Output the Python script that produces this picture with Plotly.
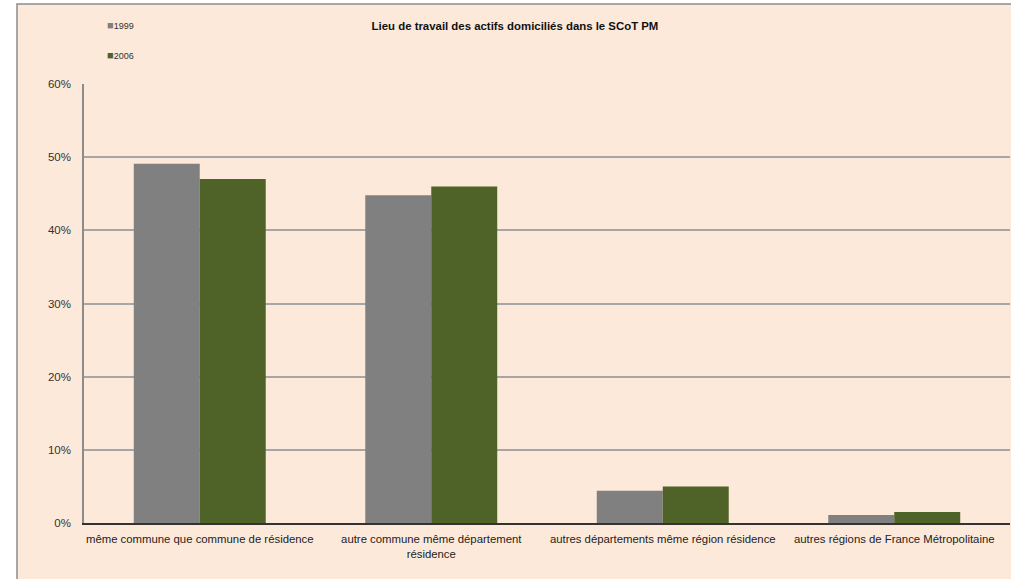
import plotly.graph_objects as go

categories = [
    "même commune que commune de résidence",
    "autre commune même département<br>résidence",
    "autres départements même région résidence",
    "autres régions de France Métropolitaine",
]
series_names = ["1999", "2006"]
values_1999 = [0.491, 0.448, 0.044, 0.011]
values_2006 = [0.470, 0.460, 0.050, 0.015]
colors = ["#808080", "#4F6228"]
y_ticks = [0, 0.1, 0.2, 0.3, 0.4, 0.5, 0.6]
title_text = "Lieu de travail des actifs domiciliés dans le SCoT PM"

W, H = 1011, 579
ml, mr, mt, mb = 84, 1, 84, 56
pw = W - ml - mr
ph = H - mt - mb

def px_x(p):
    return (p - ml) / pw

def px_y(p):
    return (H - mb - p) / ph

fig = go.Figure()
for i, (name, vals) in enumerate(zip(series_names, [values_1999, values_2006])):
    fig.add_trace(go.Bar(
        x=categories, y=vals, name=name,
        marker=dict(color=colors[i], line=dict(width=0)),
        showlegend=False,
    ))

# legend drawn as text entries (small square swatch + year)
legend_rows = [25, 55]
annotations = []
for i, name in enumerate(series_names):
    annotations.append(dict(
        xref="paper", yref="paper", x=px_x(105), y=px_y(legend_rows[i]),
        xanchor="left", yanchor="middle", showarrow=False,
        text="<span style='color:%s;font-size:11px'>■</span>%s" % (colors[i], name),
        font=dict(size=9, color="#333333", family="Liberation Sans, Arial, sans-serif"),
    ))

fig.update_layout(
    width=W, height=H,
    margin=dict(l=ml, r=mr, t=mt, b=mb, pad=0),
    paper_bgcolor="white",
    plot_bgcolor="#FDE9D9",
    font=dict(family="Liberation Sans, Arial, sans-serif", size=12, color="#222222"),
    barmode="group", bargap=0.43, bargroupgap=0,
    title=dict(text="<b>" + title_text + "</b>", x=px_x(515), xref="paper", xanchor="center",
               y=1 - 26 / H, yanchor="middle", font=dict(size=11.4, color="#111111")),
    showlegend=False,
    annotations=annotations,
    shapes=[dict(type="rect", xref="paper", yref="paper",
                 x0=px_x(17), x1=px_x(1030), y0=px_y(600), y1=px_y(4),
                 fillcolor="#FDE9D9", line=dict(color="#8C8C8C", width=1.5), layer="below")],
)
fig.update_yaxes(range=[0, 0.6], tickvals=y_ticks, tickformat=".0%",
                 showgrid=True, gridcolor="#A6A6A6", gridwidth=1.5,
                 showline=True, linecolor="#8C8C8C", linewidth=1.5,
                 ticks="outside", ticklen=9, tickcolor="rgba(0,0,0,0)", zeroline=False,
                 tickfont=dict(size=11.5, color="#333333"))
fig.update_xaxes(showline=True, linecolor="#333333", linewidth=1.5,
                 ticks="outside", ticklen=5, tickcolor="rgba(0,0,0,0)",
                 tickangle=0, tickfont=dict(size=11.35, color="#222222"))

fig.write_html("out.html", config={"displayModeBar": False},
               post_script="document.body.style.margin='0';document.body.style.overflow='hidden';")
